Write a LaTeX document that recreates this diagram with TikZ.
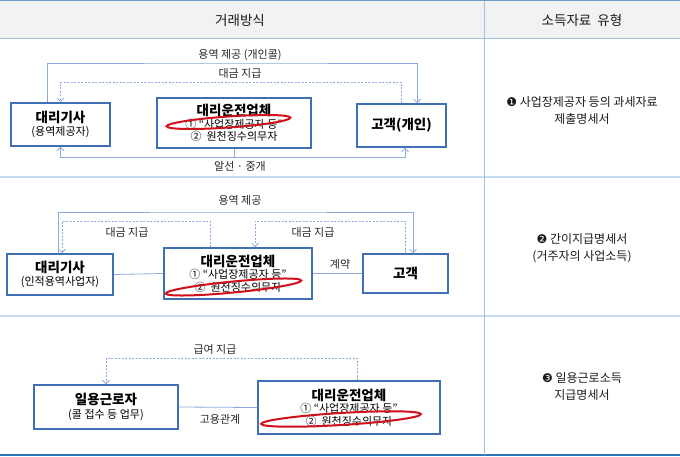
\documentclass[tikz,border=0pt]{standalone}
\usepackage{fontspec}
\setmainfont{Noto Sans CJK KR}
\newfontfamily\symfont{DejaVu Sans}
\usetikzlibrary{arrows.meta,calc}

\definecolor{boxblue}{HTML}{3F6FB5}
\definecolor{linkblue}{HTML}{8FAADC}
\definecolor{gridblue}{HTML}{9DC3E6}
\definecolor{edgeblue}{HTML}{2E75B6}
\definecolor{headgray}{HTML}{F2F2F2}
\definecolor{ringred}{HTML}{D0101A}

\tikzset{
  party/.style={draw=boxblue, line width=1.5pt, rectangle, fill=white, align=center, inner sep=0pt, font=\fontsize{11}{12.5}\selectfont},
  link/.style={draw=linkblue, line width=0.8pt},
  pay/.style={link, dash pattern=on 2pt off 1.5pt},
  tip/.style={-{Straight Barb[length=3.5pt,width=7pt]}},
  lbl/.style={font=\fontsize{11}{12}\selectfont, text=black!85, inner sep=1pt},
  ring/.style={draw=ringred, line width=2pt},
  doc/.style={align=center, font=\fontsize{12}{17}\selectfont, text=black!90},
  head/.style={font=\fontsize{13.5}{15}\selectfont, text=black!90},
}

\begin{document}
\begin{tikzpicture}[x=1pt, y=-1pt]
  \useasboundingbox (0,0) rectangle (680,457);

  % Table
  \fill[headgray] (0,1) rectangle (680,38);
  \draw[edgeblue!70, line width=1pt] (0,1) -- (680,1);
  \draw[gridblue, line width=1pt] (0,39) -- (680,39);
  \draw[gridblue!60, line width=1.5pt] (0,177) -- (680,177);
  \draw[gridblue!60, line width=1.5pt] (0,316) -- (680,316);
  \draw[edgeblue, line width=1.5pt] (0,455) -- (680,455);
  \draw[gridblue, line width=0.8pt] (484,1) -- (484,455);
  \node[head] (headway) at (240,20) {거래방식};
  \node[head] (headdoc) at (582,20) {소득자료\ \ 유형};

  % Row 1
  \node[party, minimum width=99pt, minimum height=43pt] (r1driver) at (60.5,124.5)
    {\textbf{\fontsize{13.5}{15}\selectfont 대리기사}\\[1pt](용역제공자)};
  \node[party, minimum width=154pt, minimum height=50pt] (r1firm) at (234,123)
    {\textbf{\fontsize{13.5}{15}\selectfont 대리운전업체}\\① “사업장제공자 등”\\②\ \ 원천징수의무자};
  \node[party, minimum width=89pt, minimum height=43pt] (r1cust) at (401.5,125.5)
    {\textbf{\fontsize{13.5}{15}\selectfont 고객(개인)}};
  \draw[ring, rotate around={4:(228.5,122)}] (228.5,122) ellipse [x radius=62pt, y radius=5.5pt];

  \draw[link,tip] ([xshift=-13.5pt]r1driver.north) |- (240,63) -| ([xshift=15.5pt]r1cust.north);
  \draw[pay,tip] (r1cust.north) |- (240,82) -| (r1driver.north);
  \coordinate (r1hub) at (234,157);
  \draw[link] (r1firm.south) -- (r1hub);
  \draw[link,tip] (r1hub) -| (r1driver.south);
  \draw[link,tip] (r1hub) -| ([xshift=3.5pt]r1cust.south);
  \node[lbl] (r1serve) at (240,55) {용역 제공 (개인콜)};
  \node[lbl] (r1pay) at (240,73) {대금 지급};
  \node[lbl] (r1broker) at (240,166) {알선 · 중개};

  \node[doc] (r1doc) at (582,110.5)
    {{\symfont ❶} 사업장제공자 등의 과세자료\\제출명세서};

  % Row 2
  \node[party, minimum width=106pt, minimum height=41pt] (r2driver) at (60,274.5)
    {\textbf{\fontsize{13.5}{15}\selectfont 대리기사}\\[1pt](인적용역사업자)};
  \node[party, minimum width=148pt, minimum height=51pt] (r2firm) at (238,273.5)
    {\textbf{\fontsize{13.5}{15}\selectfont 대리운전업체}\\① “사업장제공자 등”\\②\ \ 원천징수의무자};
  \node[party, minimum width=85pt, minimum height=39pt] (r2cust) at (405.5,273.5)
    {\textbf{\fontsize{13.5}{15}\selectfont 고객}};
  \draw[ring, rotate around={5.5:(233.5,287)}] (233.5,287) ellipse [x radius=68pt, y radius=5.5pt];

  \draw[link,tip] ([xshift=-2pt]r2driver.north) |- (240,212) -| ([xshift=7.5pt]r2cust.north);
  \draw[pay,tip] ([xshift=-28pt]r2firm.north) |- (130,221) -| ([xshift=2pt]r2driver.north);
  \draw[pay,tip] (r2cust.north) |- (330,221) -| ([xshift=17pt]r2firm.north);
  \draw[link] (r2driver.east) -- (r2firm.west);
  \draw[link] (r2firm.east) -- (r2cust.west);
  \node[lbl] (r2serve) at (240,200) {용역 제공};
  \node[lbl] (r2payl) at (127,232) {대금 지급};
  \node[lbl] (r2payr) at (313,232) {대금 지급};
  \node[lbl] (r2deal) at (340,264) {계약};

  \node[doc] (r2doc) at (582,248.5)
    {{\symfont ❷} 간이지급명세서\\(거주자의 사업소득)};

  % Row 3
  \node[party, minimum width=144pt, minimum height=44pt] (r3worker) at (106,407)
    {\textbf{\fontsize{13.5}{15}\selectfont 일용근로자}\\[1pt](콜 접수 등 업무)};
  \node[party, minimum width=182pt, minimum height=53pt] (r3firm) at (349,407.5)
    {\textbf{\fontsize{13.5}{15}\selectfont 대리운전업체}\\① “사업장제공자 등”\\②\ \ 원천징수의무자};
  \draw[ring, rotate around={3.5:(341,419)}] (341,419) ellipse [x radius=80pt, y radius=6pt];

  \draw[pay,tip] ([xshift=8pt]r3firm.north) |- (230,358) -| (r3worker.north);
  \draw[link] (r3worker.east) -- (r3firm.west);
  \node[lbl] (r3wage) at (215,349) {급여 지급};
  \node[lbl] (r3hire) at (220,419) {고용관계};

  \node[doc] (r3doc) at (582,386.5)
    {{\symfont ❸} 일용근로소득\\지급명세서};
\end{tikzpicture}
\end{document}
